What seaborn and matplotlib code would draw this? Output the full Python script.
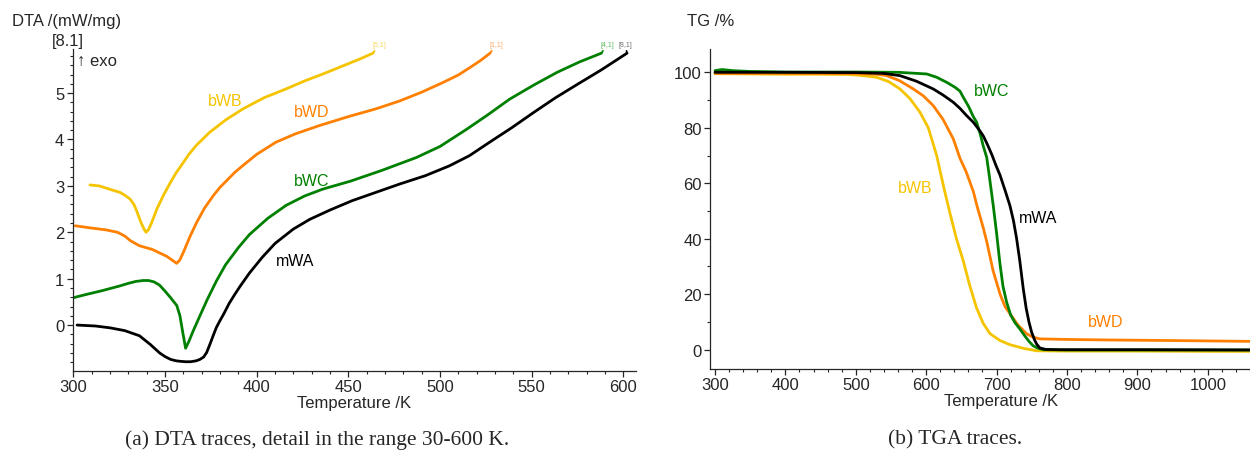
import numpy as np
import pandas as pd
import matplotlib
matplotlib.use("Agg")
import matplotlib.pyplot as plt
from matplotlib.ticker import MultipleLocator
import seaborn as sns

# ---------------- DTA data (left panel) ----------------
mWA_dta_T = [302, 312, 320, 328, 336, 342, 347, 350, 353, 356, 358, 361, 364, 367, 369, 371, 372.7, 374.5,
             376.3, 378, 380, 382, 385, 388, 391, 396, 403, 410, 420, 429, 440, 452, 465, 478, 492, 505,
             516, 527, 539, 551, 563, 575, 588, 602]
mWA_dta_v = [0.0, -0.02, -0.06, -0.12, -0.23, -0.42, -0.6, -0.68, -0.74, -0.77, -0.78, -0.79, -0.79, -0.77,
             -0.74, -0.69, -0.59, -0.41, -0.22, -0.05, 0.1, 0.24, 0.47, 0.66, 0.84, 1.12, 1.46, 1.76, 2.07,
             2.28, 2.48, 2.68, 2.86, 3.04, 3.22, 3.43, 3.65, 3.94, 4.25, 4.58, 4.9, 5.19, 5.5, 5.86]

bWC_dta_T = [299, 307, 315.5, 325, 330, 334, 338, 341, 344, 347, 350, 353, 356.4, 358.1, 359.6, 361.2, 363,
             365.4, 369, 373, 378, 383, 390, 396, 406, 416, 426, 436, 451, 468, 487, 500, 514.5, 526, 538,
             551, 564, 576, 588]
bWC_dta_v = [0.58, 0.66, 0.74, 0.84, 0.9, 0.94, 0.96, 0.96, 0.93, 0.86, 0.73, 0.59, 0.42, 0.2, -0.15, -0.5,
             -0.35, -0.12, 0.2, 0.55, 0.95, 1.3, 1.67, 1.95, 2.3, 2.58, 2.78, 2.93, 3.1, 3.33, 3.61, 3.85,
             4.22, 4.53, 4.87, 5.17, 5.45, 5.67, 5.86]

bWD_dta_T = [301, 310, 318, 324, 328, 331, 336, 343, 351, 356.3, 358, 360, 363.5, 367.2, 371.5, 376.3, 380,
             384, 388, 392.2, 400, 410.4, 421, 434.2, 450.6, 465, 478, 490, 501.7, 510, 516.3, 522, 527.3]
bWD_dta_v = [2.14, 2.09, 2.05, 2.0, 1.92, 1.82, 1.71, 1.63, 1.48, 1.33, 1.4, 1.57, 1.9, 2.21, 2.52, 2.79,
             2.97, 3.13, 3.29, 3.43, 3.68, 3.94, 4.12, 4.3, 4.5, 4.66, 4.83, 5.02, 5.23, 5.39, 5.55, 5.7, 5.86]

bWB_dta_T = [309, 314, 318, 322, 325.4, 328, 330.8, 333, 334.5, 336, 337.2, 338.5, 339.6, 341, 342.7, 345.5,
             349, 353, 356, 359, 363, 367.2, 374.2, 383, 392.5, 404, 416, 426, 436, 446, 456, 463.4]
bWB_dta_v = [3.02, 3.0, 2.95, 2.9, 2.86, 2.8, 2.72, 2.6, 2.46, 2.3, 2.18, 2.07, 2.0, 2.06, 2.21, 2.5, 2.79,
             3.08, 3.28, 3.45, 3.68, 3.88, 4.15, 4.42, 4.66, 4.9, 5.09, 5.26, 5.41, 5.57, 5.73, 5.86]

# ---------------- TGA data (right panel) ----------------
bWB_tg_T = [300, 350, 400, 450, 492, 510, 529.7, 547, 562.8, 577, 591.2, 603, 614.9, 625, 634, 643, 652.7,
            662, 671.7, 681, 690.6, 704.8, 719, 738, 757, 800, 900, 1000, 1060]
bWB_tg_v = [99.5, 99.4, 99.3, 99.3, 99.2, 98.8, 98.2, 96.6, 94.0, 90.5, 85.6, 80, 70, 58.5, 49, 40, 32,
            23, 15, 9.5, 5.8, 3.3, 1.8, 0.5, -0.4, -0.5, -0.5, -0.6, -0.6]

bWD_tg_T = [300, 400, 500, 530, 543.9, 562, 581.7, 596, 610, 624, 638.5, 648, 657, 667, 672, 681, 686, 695,
            705, 712, 719, 730, 742.8, 752, 761.6, 800, 861, 950, 1060]
bWD_tg_v = [99.6, 99.6, 99.5, 99.3, 98.8, 97, 94.0, 91.5, 88.0, 83, 76.0, 69, 64, 57, 52, 44, 39, 28.5,
            20, 15.5, 13, 9, 5.7, 4.5, 3.9, 3.7, 3.5, 3.3, 3.0]

mWA_tg_T = [300, 400, 500, 540, 562.8, 586, 610, 624, 638.5, 648, 657, 666.9, 676, 681, 686, 693, 699, 704.8,
            712, 719, 724, 728.5, 733, 737.9, 742, 746, 749.8, 754, 757, 761.6, 770, 790, 900, 1060]
mWA_tg_v = [100, 100, 99.9, 99.6, 98.8, 96.8, 94, 91.8, 89.2, 87.0, 84.5, 82.0, 79, 77.1, 74.5, 70.5, 66.5,
            63, 57.5, 51.9, 46.5, 40, 32, 22, 15, 10, 6.3, 3.5, 2, 0.6, 0.1, 0, 0, -0.1]

bWC_tg_T = [300, 310, 325, 350, 400, 500, 560, 600.7, 615, 629, 641, 648, 652.7, 660, 667, 671.7, 677, 681,
            686, 690, 695.3, 700, 704.8, 709, 714.3, 720, 726, 733, 740, 746, 752, 758, 766, 800, 1060]
bWC_tg_v = [100.6, 101, 100.6, 100.3, 100.1, 100.1, 100.0, 99.4, 98.2, 96.4, 94.6, 93.2, 91.0, 87.8, 84, 82,
            77.5, 73.5, 69.3, 62, 51.9, 42, 31, 23, 17.1, 12.5, 9.8, 7.5, 5, 3, 1.4, 0.6, 0, -0.1, -0.1]

names = ["mWA", "bWC", "bWD", "bWB"]
colors = {"mWA": "#000000", "bWC": "#008000", "bWD": "#FF8000", "bWB": "#F5C400"}
end_tags = {"mWA": "[8,1]", "bWC": "[4,1]", "bWD": "[1,1]", "bWB": "[5,1]"}
tag_colors = {"mWA": "#707070", "bWC": "#5CB85C", "bWD": "#FFAA66", "bWB": "#F8D860"}

dta = pd.concat([
    pd.DataFrame({"T": mWA_dta_T, "v": mWA_dta_v, "s": "mWA"}),
    pd.DataFrame({"T": bWC_dta_T, "v": bWC_dta_v, "s": "bWC"}),
    pd.DataFrame({"T": bWD_dta_T, "v": bWD_dta_v, "s": "bWD"}),
    pd.DataFrame({"T": bWB_dta_T, "v": bWB_dta_v, "s": "bWB"}),
])
tga = pd.concat([
    pd.DataFrame({"T": bWB_tg_T, "v": bWB_tg_v, "s": "bWB"}),
    pd.DataFrame({"T": bWD_tg_T, "v": bWD_tg_v, "s": "bWD"}),
    pd.DataFrame({"T": bWC_tg_T, "v": bWC_tg_v, "s": "bWC"}),
    pd.DataFrame({"T": mWA_tg_T, "v": mWA_tg_v, "s": "mWA"}),
])

sns.set_style("ticks")
plt.rcParams["font.family"] = ["Liberation Sans", "DejaVu Sans"]
plt.rcParams["axes.linewidth"] = 0.9

W, H = 1250, 452
fig = plt.figure(figsize=(W / 100, H / 100), dpi=100)

def box(x0, x1, ytop, ybot):
    return [x0 / W, 1 - ybot / H, (x1 - x0) / W, (ybot - ytop) / H]

ax1 = fig.add_axes(box(72.7, 636, 50, 372))
ax2 = fig.add_axes(box(710, 1250, 50, 370))

line_kw = dict(lw=2.0, solid_joinstyle="round", solid_capstyle="round")
sns.lineplot(data=dta, x="T", y="v", hue="s", palette=colors, sort=False, estimator=None,
             legend=False, ax=ax1, **line_kw)
sns.lineplot(data=tga, x="T", y="v", hue="s", palette=colors, sort=False, estimator=None,
             legend=False, ax=ax2, **line_kw)

for ax in (ax1, ax2):
    for sp in ("top", "right"):
        ax.spines[sp].set_visible(False)
    ax.tick_params(which="major", direction="out", length=4, width=0.9, labelsize=12, pad=2)
    ax.tick_params(which="minor", direction="out", length=2.5, width=0.8)
    ax.set_ylabel("")
    ax.set_xlabel("Temperature /K", fontsize=12, labelpad=0)

ax1.set_xlim(299.6, 606.9)
ax1.set_ylim(-0.99, 5.95)
ax1.xaxis.set_major_locator(MultipleLocator(50))
ax1.xaxis.set_minor_locator(MultipleLocator(10))
ax1.yaxis.set_major_locator(MultipleLocator(1))
ax1.yaxis.set_minor_locator(MultipleLocator(0.2))
ax1.set_yticks([0, 1, 2, 3, 4, 5])

ax2.set_xlim(292.9, 1060)
ax2.set_ylim(-6.96, 108.4)
ax2.xaxis.set_major_locator(MultipleLocator(100))
ax2.xaxis.set_minor_locator(MultipleLocator(20))
ax2.yaxis.set_major_locator(MultipleLocator(20))
ax2.yaxis.set_minor_locator(MultipleLocator(10))
ax2.set_yticks([0, 20, 40, 60, 80, 100])
ax2.xaxis.set_label_coords((1001 - 710) / 540, -0.075)
ax1.xaxis.set_label_coords(0.5, -0.075)

# end tags with leader lines (DTA)
series_dta = {"mWA": (mWA_dta_T, mWA_dta_v), "bWC": (bWC_dta_T, bWC_dta_v),
              "bWD": (bWD_dta_T, bWD_dta_v), "bWB": (bWB_dta_T, bWB_dta_v)}
for s, (T, v) in series_dta.items():
    dx = -1.5 if s == "mWA" else 4.5
    ax1.annotate(end_tags[s], xy=(T[-1], v[-1]), xytext=(dx, 4.0), textcoords="offset points",
                 ha="center", va="bottom", fontsize=5, color=tag_colors[s], annotation_clip=False,
                 arrowprops=dict(arrowstyle="-", color=colors[s], lw=1.3, shrinkA=0, shrinkB=0))

# curve labels
lab_dta = {"bWB": (382.6, 4.83), "bWD": (430.1, 4.60), "bWC": (430.1, 3.11), "mWA": (420.8, 1.39)}
for s, (x, y) in lab_dta.items():
    ax1.text(x, y, s, color=colors[s], fontsize=11.5, ha="center", va="center")
lab_tga = {"bWC": (693.5, 93.4), "bWB": (584, 58.5), "mWA": (759.5, 47.8), "bWD": (855.4, 10.0)}
for s, (x, y) in lab_tga.items():
    ax2.text(x, y, s, color=colors[s], fontsize=11.5, ha="center", va="center")

# axis titles and extras
fig.text(12 / W, 1 - 21.7 / H, "DTA /(mW/mg)", fontsize=12, ha="left", va="center")
fig.text(68 / W, 1 - 41.7 / H, "[8.1]", fontsize=12, ha="center", va="center")
fig.text(77 / W, 1 - 61 / H, "\u2191 exo", fontsize=12, ha="left", va="center")
fig.text(687 / W, 1 - 21.7 / H, "TG /%", fontsize=12, ha="left", va="center")

# captions
fig.text(317 / W, 1 - 440 / H, "(a) DTA traces, detail in the range 30-600 K.",
         fontsize=15.5, family="Liberation Serif", ha="center", va="center")
fig.text(955 / W, 1 - 440 / H, "(b) TGA traces.",
         fontsize=15.5, family="Liberation Serif", ha="center", va="center")

fig.savefig("out.png", dpi=100)
